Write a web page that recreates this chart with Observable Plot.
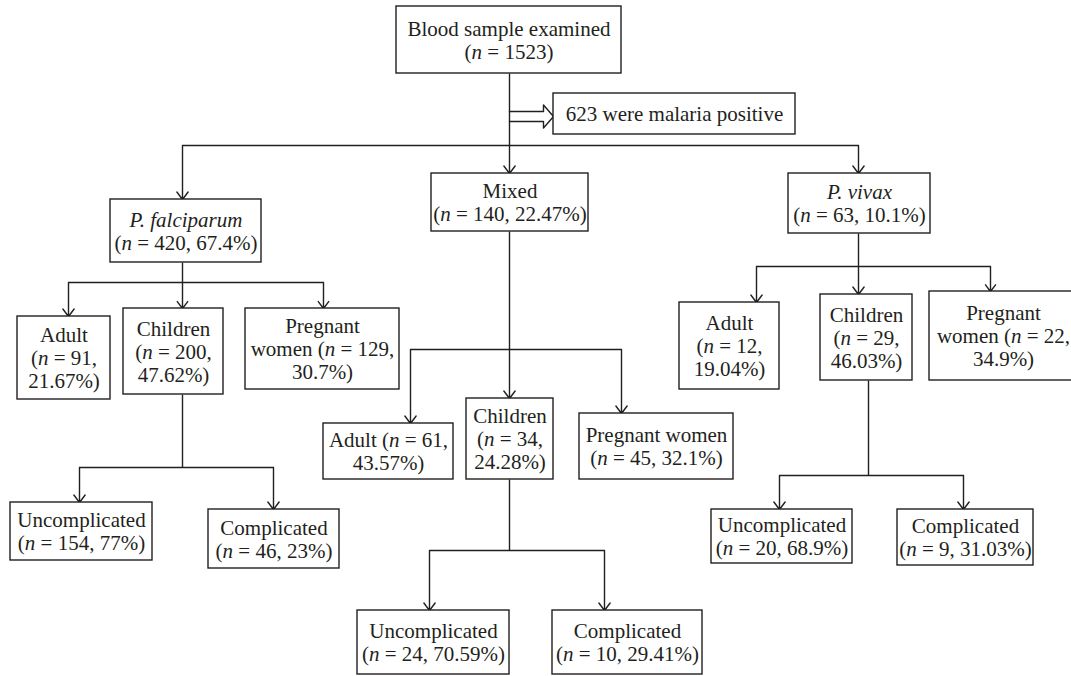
<!DOCTYPE html>
<html>
<head>
<meta charset="utf-8">
<script src="https://cdn.jsdelivr.net/npm/d3@7"></script>
<script src="https://cdn.jsdelivr.net/npm/@observablehq/plot@0.6"></script>
<style>
  html, body { margin: 0; padding: 0; background: #fff; overflow: hidden; }
  #chart { width: 1071px; height: 676px; }
</style>
</head>
<body>
<div id="chart"></div>
<script>
// ---------------- DATA ----------------
const nodeIds   = ["top","pf","mx","pv","pfA","pfC","pfP","pfCU","pfCC","mxA","mxC","mxP","mxCU","mxCC","pvA","pvC","pvP","pvCU","pvCC"];
const nodeNames = ["Blood sample examined","P. falciparum","Mixed","P. vivax",
                   "Adult","Children","Pregnant women","Uncomplicated","Complicated",
                   "Adult","Children","Pregnant women","Uncomplicated","Complicated",
                   "Adult","Children","Pregnant women","Uncomplicated","Complicated"];
const nodeN     = [1523,420,140,63, 91,200,129,154,46, 61,34,45,24,10, 12,29,22,20,9];
const nodePct   = [null,67.4,22.47,10.1, 21.67,47.62,30.7,77,23, 43.57,24.28,32.1,70.59,29.41, 19.04,46.03,34.9,68.9,31.03];
const nodeParent= [null,"top","top","top","pf","pf","pf","pfC","pfC","mx","mx","mx","mxC","mxC","pv","pv","pv","pvC","pvC"];
const positiveCount = 623;
const positiveText  = "were malaria positive";
const italicNames   = ["P. falciparum","P. vivax"];

// ---------------- LAYOUT (geometry, not data) ----------------
const layout = {
  top:  {x1:396,x2:621,y1:6,  y2:73,  fmt:"top", sx:509, by:145},
  pf:   {x1:110,x2:261,y1:199,y2:262, ax:182, fmt:"A", sx:182, by:282},
  mx:   {x1:431,x2:588,y1:173,y2:231, ax:509, fmt:"A", sx:509, by:349},
  pv:   {x1:788,x2:930,y1:173,y2:233, ax:858, fmt:"A", sx:858, by:266},
  pfA:  {x1:17, x2:110,y1:316,y2:399, ax:68,  fmt:"B"},
  pfC:  {x1:123,x2:223,y1:308,y2:394, ax:182, fmt:"B", sx:182, by:467},
  pfP:  {x1:245,x2:399,y1:308,y2:389, ax:323, fmt:"C"},
  pfCU: {x1:10, x2:152,y1:502,y2:560, ax:79,  fmt:"A"},
  pfCC: {x1:208,x2:339,y1:509,y2:568, ax:273, fmt:"A"},
  mxA:  {x1:323,x2:453,y1:423,y2:479, ax:410, fmt:"D"},
  mxC:  {x1:466,x2:553,y1:398,y2:479, ax:509, fmt:"B", sx:509, by:550},
  mxP:  {x1:579,x2:733,y1:413,y2:479, ax:621, fmt:"A"},
  mxCU: {x1:357,x2:509,y1:610,y2:674, ax:429, fmt:"A"},
  mxCC: {x1:552,x2:702,y1:610,y2:674, ax:604, fmt:"A"},
  pvA:  {x1:679,x2:779,y1:302,y2:389, ax:756, fmt:"B"},
  pvC:  {x1:820,x2:912,y1:294,y2:380, ax:858, fmt:"B", sx:868, by:475},
  pvP:  {x1:929,x2:1077,y1:291,y2:380, ax:990, fmt:"C"},
  pvCU: {x1:711,x2:852,y1:509,y2:563, ax:779, fmt:"A"},
  pvCC: {x1:897,x2:1033,y1:509,y2:565, ax:963, fmt:"A"}
};
const positiveBox = {x1:553,x2:795,y1:93,y2:134};
const hollow = {x0:509, yc:116, shaft:5, head:11.5, headLen:10};

const INK = "#231f20";

function makeLabel(name, n, pct, fmt) {
  if (fmt === "top") return `${name}\n(n = ${n})`;
  if (fmt === "A") return `${name}\n(n = ${n}, ${pct}%)`;
  if (fmt === "B") return `${name}\n(n = ${n},\n${pct}%)`;
  if (fmt === "C") { const w = name.split(" "); return `${w[0]}\n${w.slice(1).join(" ")} (n = ${n},\n${pct}%)`; }
  if (fmt === "D") return `${name} (n = ${n},\n${pct}%)`;
  return name;
}

const nodes = nodeIds.map((id, i) => {
  const L = layout[id];
  return {
    id, parent: nodeParent[i], ...L,
    cx: (L.x1 + L.x2) / 2, cy: (L.y1 + L.y2) / 2,
    label: makeLabel(nodeNames[i], nodeN[i], nodePct[i], L.fmt)
  };
});
nodes.push({id:"pos", ...positiveBox, cx:(positiveBox.x1+positiveBox.x2)/2, cy:(positiveBox.y1+positiveBox.y2)/2,
            label:`${positiveCount} ${positiveText}`});
const byId = Object.fromEntries(nodes.map(d => [d.id, d]));

// connectors
const segments = [];
const arrows = [];
for (const p of nodes) {
  const kids = nodes.filter(d => d.parent === p.id);
  if (!kids.length) continue;
  segments.push({x1:p.sx, y1:p.y2, x2:p.sx, y2:p.by});
  const xs = kids.map(k => k.ax);
  segments.push({x1:Math.min(...xs, p.sx), y1:p.by, x2:Math.max(...xs, p.sx), y2:p.by});
  for (const k of kids) arrows.push({x1:k.ax, y1:p.by, x2:k.ax, y2:k.y1});
}

// hollow (block) arrow to the "positive" box
const tip = positiveBox.x1, hb = tip - hollow.headLen;
const hollowPts = [
  [hollow.x0, hollow.yc - hollow.shaft], [hb, hollow.yc - hollow.shaft], [hb, hollow.yc - hollow.head],
  [tip, hollow.yc], [hb, hollow.yc + hollow.head], [hb, hollow.yc + hollow.shaft],
  [hollow.x0, hollow.yc + hollow.shaft]
].map(([x, y]) => ({x, y}));

const plot = Plot.plot({
  width: 1071, height: 676, margin: 0,
  x: {domain: [0, 1071], range: [0, 1071], axis: null},
  y: {domain: [0, 676], range: [0, 676], axis: null},
  style: {background: "white"},
  marks: [
    Plot.line(hollowPts, {x: "x", y: "y", fill: "white", stroke: INK, strokeWidth: 1.4, curve: "linear"}),
    Plot.link(segments, {x1: "x1", y1: "y1", x2: "x2", y2: "y2", stroke: INK, strokeWidth: 1.4}),
    Plot.arrow(arrows, {x1: "x1", y1: "y1", x2: "x2", y2: "y2", stroke: INK, strokeWidth: 1.4, headLength: 10, headAngle: 74}),
    Plot.rect(nodes, {x1: "x1", x2: "x2", y1: "y1", y2: "y2", fill: "white", stroke: INK, strokeWidth: 1.4}),
    Plot.text(nodes, {x: "cx", y: "cy", text: "label", fontSize: 21, lineHeight: 1.1,
                      fontFamily: "'Liberation Serif', 'Times New Roman', serif", fill: INK,
                      textAnchor: "middle", lineAnchor: "middle"})
  ]
});

// rich text: italic species names and italic "n"
const SVGNS = "http://www.w3.org/2000/svg";
d3.select(plot).selectAll("text").each(function () {
  const parts = this.querySelectorAll("tspan");
  const els = parts.length ? Array.from(parts) : [this];
  for (const el of els) {
    const s = el.textContent;
    if (italicNames.includes(s)) { el.setAttribute("font-style", "italic"); continue; }
    const i = s.indexOf("n =");
    if (i < 0) continue;
    el.textContent = "";
    el.appendChild(document.createTextNode(s.slice(0, i)));
    const t = document.createElementNS(SVGNS, "tspan");
    t.setAttribute("font-style", "italic");
    t.textContent = "n";
    el.appendChild(t);
    el.appendChild(document.createTextNode(s.slice(i + 1)));
  }
});

document.getElementById("chart").appendChild(plot);
</script>
</body>
</html>
